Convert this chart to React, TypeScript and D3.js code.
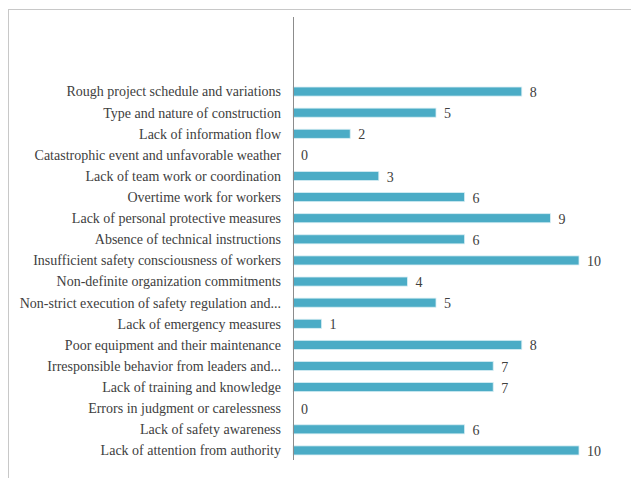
import { useEffect, useRef } from 'react'
import * as d3 from 'd3'

// categories top to bottom as shown
const categories = [
  'Rough project schedule and variations',
  'Type and nature of construction',
  'Lack of information flow',
  'Catastrophic event and unfavorable weather',
  'Lack of team work or coordination',
  'Overtime work for workers',
  'Lack of personal protective measures',
  'Absence of technical instructions',
  'Insufficient safety consciousness of workers',
  'Non-definite organization commitments',
  'Non-strict execution of safety regulation and...',
  'Lack of emergency measures',
  'Poor equipment and their maintenance',
  'Irresponsible behavior from leaders and...',
  'Lack of training and knowledge',
  'Errors in judgment or carelessness',
  'Lack of safety awareness',
  'Lack of attention from authority',
]
const values = [8, 5, 2, 0, 3, 6, 9, 6, 10, 4, 5, 1, 8, 7, 7, 0, 6, 10]

export default function App() {
  const chartRef = useRef<SVGSVGElement>(null)

  useEffect(() => {
    const width = 631
    const height = 478
    const axisX = 293
    const font = 'Liberation Serif'

    const svg = d3.select(chartRef.current)
    svg.selectAll('*').remove()

    svg.append('rect')
      .attr('width', width)
      .attr('height', height)
      .attr('fill', '#fff')

    // outer chart border (runs off right/bottom edges)
    svg.append('rect')
      .attr('x', 8.5)
      .attr('y', 9.5)
      .attr('width', 700)
      .attr('height', 600)
      .attr('fill', 'none')
      .attr('stroke', '#c8c8c8')
      .attr('stroke-width', 1)

    const x = d3.scaleLinear().domain([0, 10]).range([axisX, 579])
    const y = d3.scaleBand<string>()
      .domain(categories)
      .range([81, 461])
      .paddingInner(0.57)
      .paddingOuter(0.285)

    const data = categories.map((c, i) => ({ c, v: values[i] }))

    svg.append('g')
      .selectAll('rect')
      .data(data)
      .join('rect')
      .attr('x', axisX)
      .attr('y', d => y(d.c)!)
      .attr('width', d => x(d.v) - axisX)
      .attr('height', y.bandwidth())
      .attr('fill', '#4BACC6')
      .attr('stroke', '#d8eef4')
      .attr('stroke-width', 0.8)
      .attr('display', d => (d.v === 0 ? 'none' : null))

    // axis line
    svg.append('line')
      .attr('x1', axisX + 0.5)
      .attr('x2', axisX + 0.5)
      .attr('y1', 17)
      .attr('y2', 460)
      .attr('stroke', '#8c8c8c')
      .attr('stroke-width', 1)

    svg.append('g')
      .selectAll('text')
      .data(data)
      .join('text')
      .attr('x', axisX - 12)
      .attr('y', d => y(d.c)! + y.bandwidth() / 2)
      .attr('dy', '0.35em')
      .attr('text-anchor', 'end')
      .style('font-family', font)
      .style('font-size', '14px')
      .attr('fill', '#404040')
      .text(d => d.c)

    svg.append('g')
      .selectAll('text')
      .data(data)
      .join('text')
      .attr('x', d => x(d.v) + 8)
      .attr('y', d => y(d.c)! + y.bandwidth() / 2)
      .attr('dy', '0.4em')
      .style('font-family', font)
      .style('font-size', '14px')
      .attr('fill', '#404040')
      .text(d => d.v)
  }, [])

  return (
    <div style={{ position: 'fixed', left: 0, top: 0 }}>
      <svg ref={chartRef} width={631} height={478} style={{ display: 'block' }} />
    </div>
  )
}
